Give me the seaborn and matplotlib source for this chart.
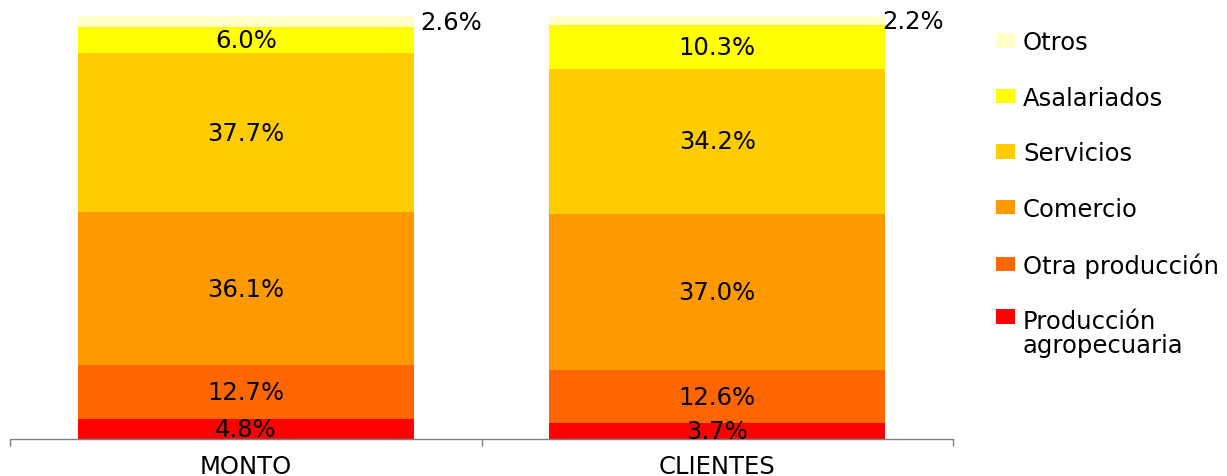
import numpy as np
import pandas as pd
import matplotlib
matplotlib.use("Agg")
import matplotlib.pyplot as plt
import seaborn as sns
from matplotlib.patches import Patch

# Distribución porcentual por sector
grupos = ["MONTO", "CLIENTES"]
sectores = ["Producción\nagropecuaria", "Otra producción", "Comercio",
            "Servicios", "Asalariados", "Otros"]
monto = [4.8, 12.7, 36.1, 37.7, 6.0, 2.6]
clientes = [3.7, 12.6, 37.0, 34.2, 10.3, 2.2]
colores = ["#FF0000", "#FF6600", "#FF9900", "#FFCC00", "#FFFF00", "#FFFFCC"]

sns.set_theme(style="white")
plt.rcParams["font.family"] = ["DejaVu Sans"]
plt.rcParams["text.color"] = "black"

df = pd.DataFrame({
    "grupo": np.repeat(grupos, len(sectores)),
    "sector": sectores * 2,
    "pct": monto + clientes,
})
df["tope"] = df.groupby("grupo", sort=False)["pct"].cumsum()
df["base"] = df["tope"] - df["pct"]

fig = plt.figure(figsize=(12.27, 4.77), dpi=100)
ax = fig.add_axes([10 / 1227, 37 / 477, 943 / 1227, 423 / 477])

ancho = 0.713
# stacked bars: draw cumulative totals from the top layer down
for sector, color in reversed(list(zip(sectores, colores))):
    capa = df[df["sector"] == sector]
    sns.barplot(data=capa, x="grupo", y="tope", order=grupos, color=color,
                width=ancho, saturation=1, linewidth=0, errorbar=None, ax=ax)

fs = 17.5
desplaz_otros = {"MONTO": 4.5, "CLIENTES": -2.0}
for _, fila in df.iterrows():
    xi = grupos.index(fila["grupo"])
    ymid = fila["base"] + fila["pct"] / 2
    texto = f"{fila['pct']:.1f}%"
    if fila["sector"] == "Otros":
        ax.annotate(texto, xy=(xi + ancho / 2, ymid), xytext=(desplaz_otros[fila["grupo"]], 0),
                    textcoords="offset points", ha="left", va="center",
                    fontsize=fs, color="black", annotation_clip=False)
    else:
        ax.text(xi, ymid, texto, ha="center", va="center", fontsize=fs,
                color="black", clip_on=True)

ax.set_xlim(-0.5, 1.5)
ax.set_ylim(0, 100)
ax.set_xlabel("")
ax.set_ylabel("")
ax.set_yticks([])
for lado in ["left", "right", "top"]:
    ax.spines[lado].set_visible(False)
ax.spines["bottom"].set_color("#808080")
ax.spines["bottom"].set_linewidth(1)

ax.set_xticks([0, 1])
ax.set_xticklabels(grupos)
ax.set_xticks([-0.5, 0.5, 1.5], minor=True)
ax.tick_params(axis="x", which="major", length=0, pad=11, labelsize=fs, labelcolor="black")
ax.tick_params(axis="x", which="minor", bottom=True, length=5, width=1,
               direction="out", color="#808080")

handles = [Patch(facecolor=c, edgecolor="none", label=s)
           for s, c in zip(sectores, colores)][::-1]
leg = fig.legend(handles=handles, loc="upper left",
                 bbox_to_anchor=(996 / 1227, 1 - 31 / 477), frameon=False,
                 fontsize=fs, labelcolor="black", handlelength=0.78,
                 handleheight=0.53, handletextpad=0.33, labelspacing=1.3,
                 borderpad=0, borderaxespad=0)
for t in leg.get_texts():
    t.set_linespacing(1.0)
# two-line entry: square next to the first line
columna = leg._legend_handle_box.get_children()[0]
columna.get_children()[-1].align = "top"

fig.savefig("out.png", dpi=100, facecolor="white")
